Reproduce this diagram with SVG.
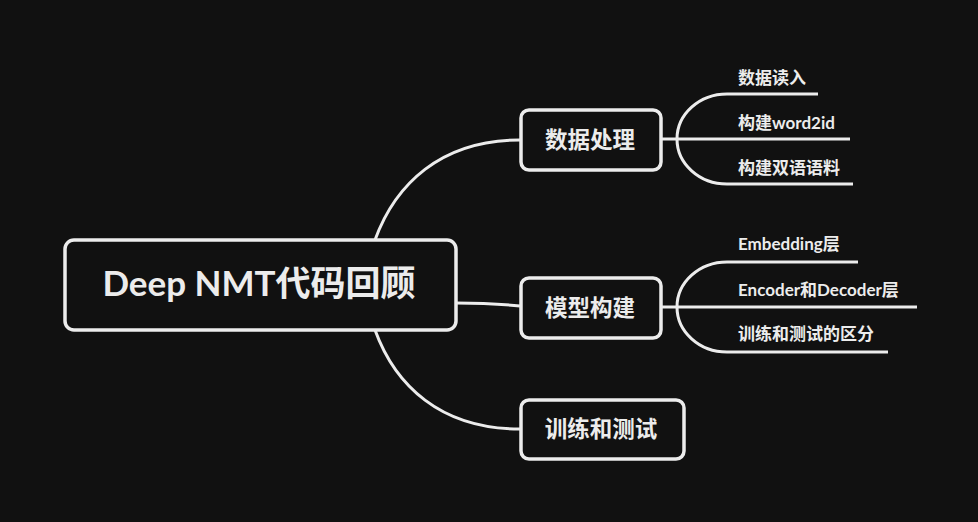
<svg xmlns="http://www.w3.org/2000/svg" width="978" height="522" viewBox="0 0 978 522">
<style>
.box{fill:#111111;stroke:#ececec;stroke-width:3.5}
.ln{fill:none;stroke:#ececec;stroke-width:3;stroke-linecap:butt}
text{fill:#ececec;font-family:Lato,"Noto Sans CJK SC",sans-serif;font-weight:bold}
.l1{font-size:22.5px;text-anchor:middle}
.l2{font-size:17px}
</style>
<rect width="978" height="522" fill="#111111"/>
<g id="connectors">
<path class="ln" d="M375 240 C395 185 440 140 520 140"/>
<path class="ln" d="M456 303 Q490 303 520 306"/>
<path class="ln" d="M375 330 C395 385 440 429 520 429"/>
<path class="ln" d="M662 139 H850"/>
<path class="ln" d="M727 94 H818"/>
<path class="ln" d="M727 184 H853"/>
<path class="ln" d="M727 94 A50 45 0 0 0 677 139 A50 45 0 0 0 727 184"/>
<path class="ln" d="M662 307 H917"/>
<path class="ln" d="M727 262 H858"/>
<path class="ln" d="M727 352 H888"/>
<path class="ln" d="M727 262 A50 45 0 0 0 677 307 A50 45 0 0 0 727 352"/>
</g>
<g id="root">
<rect class="box" x="65" y="240" width="391" height="90" rx="9"/>
<text x="259" y="296" font-size="35" text-anchor="middle">Deep NMT代码回顾</text>
</g>
<g id="n1">
<rect class="box" x="521" y="110" width="140" height="60" rx="8"/>
<text class="l1" x="590" y="148">数据处理</text>
</g>
<g id="n2">
<rect class="box" x="521" y="278" width="140" height="60" rx="8"/>
<text class="l1" x="590" y="316">模型构建</text>
</g>
<g id="n3">
<rect class="box" x="521" y="400" width="163" height="59" rx="8"/>
<text class="l1" x="601" y="437">训练和测试</text>
</g>
<g id="n1a"><text class="l2" x="738" y="84">数据读入</text></g>
<g id="n1b"><text class="l2" x="738" y="129">构建word2id</text></g>
<g id="n1c"><text class="l2" x="738" y="174">构建双语语料</text></g>
<g id="n2a"><text class="l2" x="738" y="250">Embedding层</text></g>
<g id="n2b"><text class="l2" x="738" y="296">Encoder和Decoder层</text></g>
<g id="n2c"><text class="l2" x="738" y="340">训练和测试的区分</text></g>
</svg>
